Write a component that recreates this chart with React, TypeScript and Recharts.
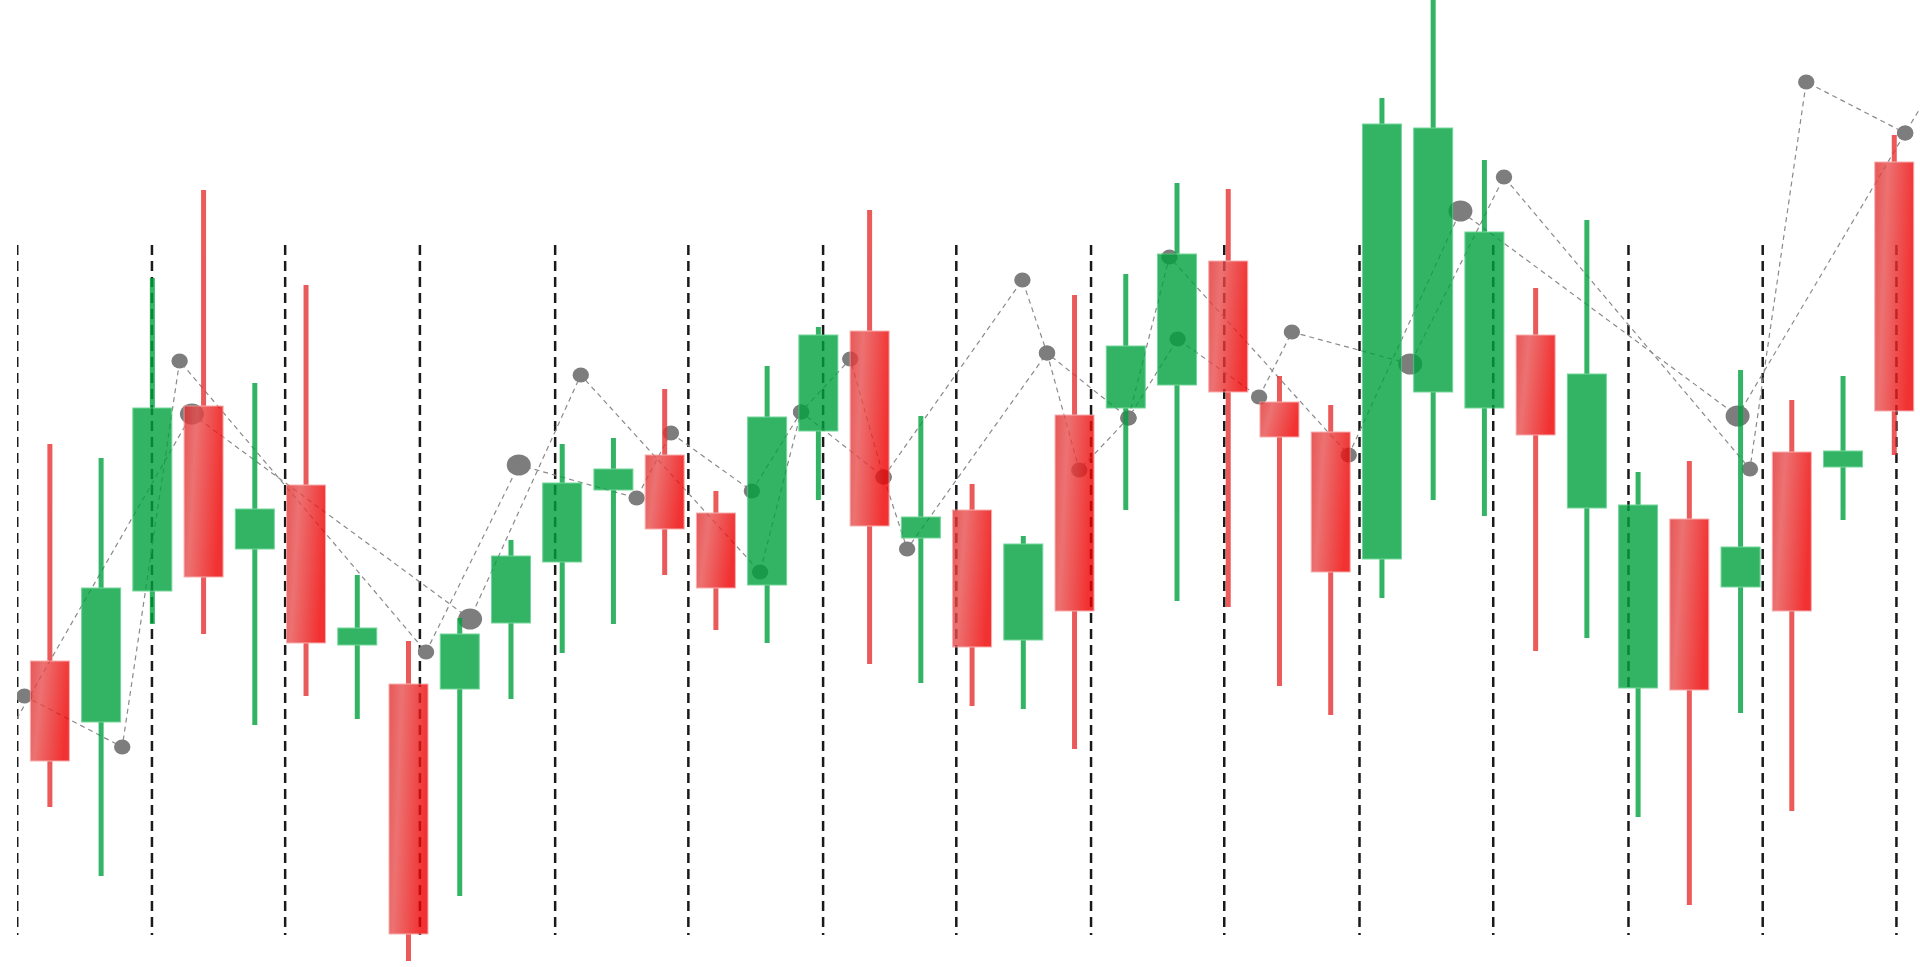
import React from 'react';
import { ComposedChart, Bar, Line, XAxis, YAxis, ReferenceLine } from 'recharts';

// ---- Candles (37 sessions) ----
const opens = [130.6, 124.5, 137.6, 156.1, 141.8, 148.2, 132.2, 128.3, 127.8, 134.4, 140.5, 147.7, 151.2, 145.4, 138.2, 153.6, 163.6, 142.9, 145.7, 132.7, 155.2, 155.9, 158.2, 170.6, 156.5, 153.5, 140.8, 157.5, 155.9, 163.2, 145.9, 127.9, 144.8, 138.0, 151.5, 150.0, 180.5];
const closes = [120.6, 137.9, 155.9, 139.0, 145.8, 132.4, 133.9, 103.3, 133.3, 141.1, 148.4, 149.8, 143.8, 137.9, 155.0, 163.2, 144.1, 145.0, 132.0, 142.3, 135.6, 162.1, 171.3, 157.5, 153.0, 139.5, 184.3, 183.9, 173.5, 153.2, 159.3, 146.2, 127.7, 142.0, 135.6, 151.6, 155.6];
const highs = [152.3, 150.9, 168.9, 177.7, 158.4, 168.2, 139.2, 132.6, 134.9, 142.7, 152.3, 152.9, 157.8, 147.6, 160.1, 164.0, 175.7, 155.1, 148.3, 143.1, 167.2, 169.3, 178.4, 177.8, 159.1, 156.2, 186.9, 198.0, 180.7, 167.9, 174.7, 149.5, 150.6, 159.7, 156.7, 159.1, 183.2];
const lows = [116.0, 109.1, 134.3, 133.3, 124.2, 127.1, 124.8, 100.6, 107.1, 126.8, 131.4, 134.3, 139.2, 133.7, 132.4, 146.7, 130.3, 128.4, 126.1, 125.8, 121.8, 145.7, 136.6, 136.0, 128.1, 125.2, 136.9, 146.7, 145.1, 131.6, 132.9, 115.0, 106.2, 125.4, 115.6, 144.7, 151.2];

// ---- Trend line A ----
const lineAX = [-0.5, 1.41, 2.53, 7.34, 9.15, 11.45, 12.12, 13.7, 14.66, 15.62, 16.27, 18.98, 19.46, 21.05, 21.85, 25.35, 27.53, 32.94, 36.21, 37.0];
const lineAY = [127.1, 122.0, 160.6, 131.5, 150.2, 146.9, 153.4, 147.6, 155.5, 160.8, 149.0, 168.7, 161.4, 154.9, 171.0, 151.2, 175.6, 155.1, 183.4, 190.1];
const lineAW = [1, 1, 1, 1, 2, 1, 1, 1, 1, 1, 1, 1, 1, 1, 1, 1, 2, 2, 1, 1];

// ---- Trend line B ----
const lineBX = [-1.0, 2.77, 8.2, 10.36, 13.86, 14.66, 16.27, 16.73, 19.46, 20.09, 21.05, 22.01, 23.6, 24.24, 26.55, 28.38, 33.18, 34.28, 36.21];
const lineBY = [121.7, 155.3, 134.8, 159.2, 139.5, 155.5, 149.0, 141.8, 161.4, 149.7, 154.9, 162.8, 157.0, 163.5, 160.3, 179.0, 149.8, 188.5, 183.4];
const lineBW = [1, 2, 2, 1, 1, 1, 1, 1, 1, 1, 1, 1, 1, 1, 2, 1, 1, 1, 1];

// ---- Vertical dashed guides ----
const guideX = [-0.64, 1.99, 4.59, 7.22, 9.86, 12.46, 15.09, 17.69, 20.32, 22.92, 25.56, 28.17, 30.81, 33.43, 36.04];
const guideTop = 172.2;
const guideBottom = 103.2;

const X_DOMAIN: [number, number] = [-0.644, 36.5];

const candles = opens.map((o, i) => ({ x: i, open: o, close: closes[i], high: highs[i], low: lows[i] }));
const lineA = lineAX.map((x, i) => ({ x, y: lineAY[i], w: lineAW[i] }));
const lineB = lineBX.map((x, i) => ({ x, y: lineBY[i], w: lineBW[i] }));

const CANDLE_OPACITY = 0.8;
const GREEN = '#01a23f';
const GREEN_EDGE = '#4fcb80';
const RED_WICK = '#e73131';
const RED_EDGE = '#f59a9a';
const BODY_W = 39;
const WICK_W = 5;

const Candle = (props: any) => {
  const { x, y, width, height, payload, index } = props;
  if (x == null || y == null) return null;
  const { open, close, high, low } = payload;
  const top = height >= 0 ? y : y + height;
  const h = Math.abs(height);
  const ppu = h / (high - low);
  const up = close >= open;
  const bTop = top + (high - Math.max(open, close)) * ppu;
  const bBot = top + (high - Math.min(open, close)) * ppu;
  const cx = x + width / 2;
  const gid = `redGrad${index}`;
  return (
    <g opacity={CANDLE_OPACITY}>
      {!up && (
        <defs>
          <linearGradient id={gid} x1="0" y1="0" x2="1" y2="0.25">
            <stop offset="0%" stopColor="#e22e2e" />
            <stop offset="32%" stopColor="#e84f4f" />
            <stop offset="100%" stopColor="#ef0000" />
          </linearGradient>
        </defs>
      )}
      <rect x={cx - WICK_W / 2} y={top} width={WICK_W} height={h} fill={up ? GREEN : RED_WICK} />
      <rect
        x={cx - BODY_W / 2}
        y={bTop}
        width={BODY_W}
        height={Math.max(bBot - bTop, 1)}
        fill={up ? GREEN : `url(#${gid})`}
        stroke={up ? GREEN_EDGE : RED_EDGE}
        strokeWidth={1}
      />
    </g>
  );
};

const Marker = (props: any) => {
  const { cx, cy, payload, index } = props;
  if (cx == null || cy == null) return <g key={`m${index}`} />;
  const big = payload.w > 1;
  return (
    <ellipse
      key={`m${index}`}
      cx={cx}
      cy={cy}
      rx={big ? 12 : 8.2}
      ry={big ? 10.6 : 7.4}
      fill="#7d7d7d"
    />
  );
};

const anyProps = (p: any) => p;

export default function App() {
  return (
    <div style={{ position: 'absolute', left: 17, top: 0, width: 1903, height: 967, background: '#fff' }}>
      <ComposedChart
        width={1903}
        height={967}
        data={candles}
        margin={{ top: 0, right: 0, bottom: 0, left: 0 }}
      >
        <XAxis xAxisId="c" type="number" dataKey="x" domain={X_DOMAIN} allowDataOverflow hide />
        <XAxis xAxisId="l" type="number" dataKey="x" domain={X_DOMAIN} allowDataOverflow hide />
        <YAxis type="number" domain={[100, 196.7]} allowDataOverflow hide />
        {guideX.map((gx) => (
          <ReferenceLine
            key={`g${gx}`}
            xAxisId="l"
            segment={[{ x: gx, y: guideTop }, { x: gx, y: guideBottom }]}
            stroke="#1a1a1a"
            strokeWidth={2.5}
            strokeDasharray="10 6"
            {...anyProps({ zIndex: 100 })}
          />
        ))}
        <Line
          xAxisId="l"
          data={lineA}
          dataKey="y"
          type="linear"
          stroke="#8a8a8a"
          strokeWidth={1.2}
          strokeDasharray="5 4"
          dot={Marker}
          activeDot={false}
          isAnimationActive={false}
          {...anyProps({ zIndex: 200 })}
        />
        <Line
          xAxisId="l"
          data={lineB}
          dataKey="y"
          type="linear"
          stroke="#8a8a8a"
          strokeWidth={1.2}
          strokeDasharray="5 4"
          dot={Marker}
          activeDot={false}
          isAnimationActive={false}
          {...anyProps({ zIndex: 200 })}
        />
        <Bar
          xAxisId="c"
          dataKey={(d: any) => [d.low, d.high]}
          barSize={BODY_W}
          shape={Candle}
          isAnimationActive={false}
          {...anyProps({ zIndex: 3000 })}
        />
      </ComposedChart>
    </div>
  );
}
